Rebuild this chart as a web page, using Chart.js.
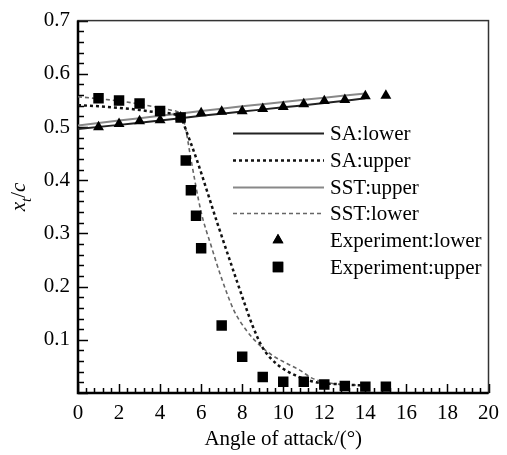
<!DOCTYPE html>
<html><head><meta charset="utf-8">
<script src="https://cdn.jsdelivr.net/npm/chart.js@4/dist/chart.umd.min.js"></script>
<style>html,body{margin:0;padding:0;background:#fff;overflow:hidden}</style>
</head><body>
<canvas id="c" width="507" height="455"></canvas>
<script>
// ---- data ----
const xTickLabels = ['0','2','4','6','8','10','12','14','16','18','20'];
const yTickLabels = ['0.1','0.2','0.3','0.4','0.5','0.6','0.7'];

const saLowerX  = [0, 2, 4, 6, 8, 10, 12, 14];
const saLowerY  = [0.496, 0.504, 0.512, 0.521, 0.529, 0.537, 0.545, 0.554];

const saUpperX  = [0, 1, 2, 3, 4, 5, 5.25, 5.8, 6.8, 7.7, 8.1, 8.5, 9.0, 9.7, 10.6, 11.5, 12.5, 14];
const saUpperY  = [0.541, 0.539, 0.536, 0.532, 0.527, 0.519, 0.495, 0.437, 0.318, 0.215, 0.170, 0.127, 0.085, 0.054, 0.033, 0.021, 0.017, 0.014];

const sstUpperX = [0, 2, 4, 6, 8, 10, 12, 14];
const sstUpperY = [0.503, 0.512, 0.521, 0.530, 0.539, 0.547, 0.555, 0.563];

const sstLowerX = [0, 1, 2, 3, 4, 4.5, 5.0, 5.2, 5.5, 6.0, 6.5, 7.0, 7.6, 8.2, 8.9, 9.5, 10.2, 10.8, 11.45, 12.4, 14];
const sstLowerY = [0.557, 0.553, 0.549, 0.543, 0.536, 0.532, 0.524, 0.505, 0.440, 0.340, 0.275, 0.215, 0.155, 0.118, 0.088, 0.070, 0.055, 0.043, 0.027, 0.018, 0.014];

const expLowerX = [1, 2, 3, 4, 5, 6, 7, 8, 9, 10, 11, 12, 13, 14, 15];
const expLowerY = [0.500, 0.506, 0.511, 0.513, 0.518, 0.526, 0.529, 0.530, 0.534, 0.538, 0.543, 0.549, 0.551, 0.558, 0.559];

const expUpperX = [1, 2, 3, 4, 5, 5.25, 5.5, 5.75, 6, 7, 8, 9, 10, 11, 12, 13, 14, 15];
const expUpperY = [0.554, 0.550, 0.544, 0.530, 0.518, 0.437, 0.381, 0.333, 0.272, 0.127, 0.068, 0.030, 0.021, 0.021, 0.016, 0.013, 0.012, 0.012];

const seriesNames = ['SA:lower', 'SA:upper', 'SST:upper', 'SST:lower', 'Experiment:lower', 'Experiment:upper'];

const pts = (xs, ys) => xs.map((x, i) => ({x, y: ys[i]}));
const FONT = '"Liberation Serif", "Times New Roman", serif';
const FS = 21;

const lineBase = {showLine: true, pointRadius: 0, fill: false, cubicInterpolationMode: 'monotone', order: 2};

const datasets = [
  Object.assign({label: seriesNames[0], data: pts(saLowerX, saLowerY), borderColor: '#222', borderWidth: 2}, lineBase),
  Object.assign({label: seriesNames[1], data: pts(saUpperX, saUpperY), borderColor: '#111', borderWidth: 2.5, borderDash: [3, 3]}, lineBase),
  Object.assign({label: seriesNames[2], data: pts(sstUpperX, sstUpperY), borderColor: '#888', borderWidth: 2}, lineBase),
  Object.assign({label: seriesNames[3], data: pts(sstLowerX, sstLowerY), borderColor: '#666', borderWidth: 1.6, borderDash: [4, 3]}, lineBase),
  {label: seriesNames[4], data: pts(expLowerX, expLowerY), showLine: false, pointStyle: 'triangle', pointRadius: 6.3,
   backgroundColor: '#000', borderColor: '#000', borderWidth: 0, order: 0},
  {label: seriesNames[5], data: pts(expUpperX, expUpperY), showLine: false, pointStyle: 'rect', pointRadius: 7.4,
   backgroundColor: '#000', borderColor: '#000', borderWidth: 0, order: 0}
];

const decorations = {
  id: 'decorations',
  beforeDatasetsDraw(chart) {
    const {ctx, chartArea: a, scales: {x, y}} = chart;
    ctx.save();
    ctx.strokeStyle = '#000';
    ctx.lineWidth = 1.5;
    for (let k = 0; k <= 50; k++) {
      const v = k * 0.4;
      const major = (k % 5 === 0);
      const px = Math.round(x.getPixelForValue(v)) + 0.5;
      ctx.beginPath();
      ctx.moveTo(px, a.bottom);
      ctx.lineTo(px, a.bottom - (major ? 9 : 5));
      ctx.stroke();
    }
    for (let k = 0; k <= 35; k++) {
      const v = k * 0.02;
      const major = (k % 5 === 0);
      const py = Math.round(y.getPixelForValue(v)) + 0.5;
      ctx.beginPath();
      ctx.moveTo(a.left, py);
      ctx.lineTo(a.left + (major ? 10 : 6), py);
      ctx.stroke();
    }
    ctx.strokeStyle = '#333';
    ctx.lineWidth = 1.5;
    ctx.strokeRect(a.left, a.top, a.right - a.left, a.bottom - a.top);
    ctx.strokeStyle = '#000';
    ctx.lineWidth = 2.5;
    ctx.beginPath();
    ctx.moveTo(a.left, a.top);
    ctx.lineTo(a.left, a.bottom);
    ctx.lineTo(a.right, a.bottom);
    ctx.stroke();
    ctx.restore();
  },
  afterDraw(chart) {
    const {ctx} = chart;
    ctx.save();
    const ds = chart.data.datasets;
    const x0 = 233, x1 = 324, mx = 278, tx = 330;
    const rowY = [133, 160, 187, 213, 240, 267];
    ctx.font = FS + 'px ' + FONT;
    ctx.textBaseline = 'middle';
    ctx.textAlign = 'left';
    ds.forEach((d, i) => {
      const yy = rowY[i];
      if (d.showLine) {
        ctx.strokeStyle = d.borderColor;
        ctx.lineWidth = d.borderWidth;
        ctx.setLineDash(d.borderDash || []);
        ctx.beginPath();
        ctx.moveTo(x0, yy + 0.5);
        ctx.lineTo(x1, yy + 0.5);
        ctx.stroke();
        ctx.setLineDash([]);
      } else {
        ctx.fillStyle = d.backgroundColor;
        Chart.helpers.drawPoint(ctx, {pointStyle: d.pointStyle, radius: d.pointRadius, borderWidth: 0, rotation: 0}, mx, yy);
        ctx.fill();
      }
      ctx.fillStyle = '#000';
      ctx.fillText(d.label, tx, yy + 1);
    });
    ctx.translate(25, 197);
    ctx.rotate(-Math.PI / 2);
    ctx.textBaseline = 'alphabetic';
    ctx.fillStyle = '#000';
    const fI = 'italic ' + FS + 'px ' + FONT, fS = 'italic 15px ' + FONT, fN = FS + 'px ' + FONT;
    ctx.font = fI; const wx = ctx.measureText('x').width;
    ctx.font = fS; const wt = ctx.measureText('t').width;
    ctx.font = fN; const ws = ctx.measureText('/').width;
    ctx.font = fI; const wc = ctx.measureText('c').width;
    let cx = -(wx + wt + ws + wc) / 2;
    ctx.font = fI; ctx.fillText('x', cx, 0); cx += wx;
    ctx.font = fS; ctx.fillText('t', cx, 6); cx += wt;
    ctx.font = fN; ctx.fillText('/', cx, 0); cx += ws;
    ctx.font = fI; ctx.fillText('c', cx, 0);
    ctx.restore();
  }
};

new Chart(document.getElementById('c'), {
  type: 'scatter',
  data: {datasets},
  options: {
    responsive: false,
    animation: false,
    devicePixelRatio: 1,
    layout: {padding: {left: 0, top: 15, right: 15, bottom: 0}},
    plugins: {legend: {display: false}, tooltip: {enabled: false}},
    scales: {
      x: {
        type: 'linear', min: 0, max: 20,
        afterFit: s => { s.height = 62; },
        grid: {display: false, drawTicks: false},
        border: {display: false},
        ticks: {stepSize: 2, padding: 8, color: '#000', font: {family: FONT, size: FS}, maxRotation: 0, autoSkip: false,
                callback: (v) => { const s = String(Math.round(v)); return xTickLabels.includes(s) ? s : ''; }},
        title: {display: true, text: 'Angle of attack/(°)', color: '#000', font: {family: FONT, size: FS}, padding: {top: 4, bottom: 3}}
      },
      y: {
        type: 'linear', min: 0, max: 0.7,
        afterFit: s => { s.width = 78; },
        grid: {display: false, drawTicks: false},
        border: {display: false},
        ticks: {stepSize: 0.1, padding: 8, color: '#000', font: {family: FONT, size: FS},
                callback: (v) => { const s = (Math.round(v * 10) / 10).toFixed(1); return yTickLabels.includes(s) ? s : ''; }},
        title: {display: false}
      }
    }
  },
  plugins: [decorations]
});
</script>
</body></html>
